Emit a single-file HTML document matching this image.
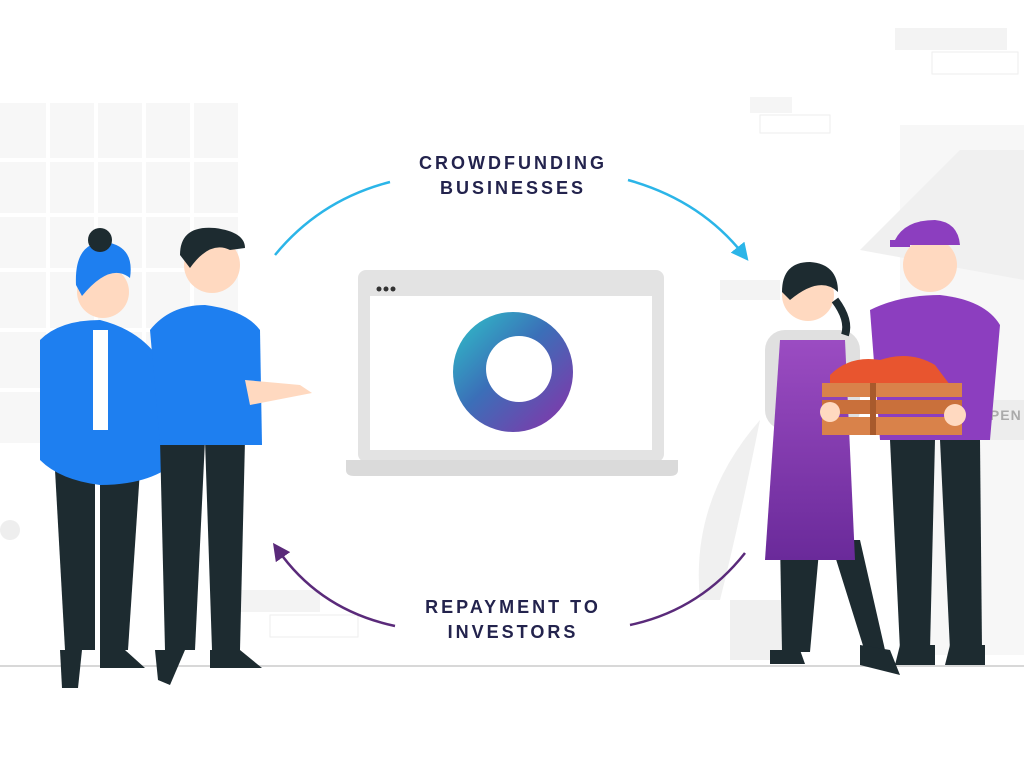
<!DOCTYPE html>
<html><head><meta charset="utf-8"><style>
html,body{margin:0;padding:0;background:#fff;width:1024px;height:768px;overflow:hidden}
svg{display:block}
text{font-family:"Liberation Sans",sans-serif;font-weight:bold;fill:#23234d;letter-spacing:3px}
</style></head><body>
<svg width="1024" height="768" viewBox="0 0 1024 768" xmlns="http://www.w3.org/2000/svg">
<defs>
<linearGradient id="ring" x1="0" y1="0" x2="1" y2="1">
<stop offset="0" stop-color="#2ec4c9"/><stop offset="0.45" stop-color="#3b6fb8"/><stop offset="1" stop-color="#8b2fa8"/>
</linearGradient>
<linearGradient id="apron" x1="0" y1="0" x2="0" y2="1"><stop offset="0" stop-color="#9b4cc2"/><stop offset="1" stop-color="#6a2a9a"/></linearGradient>
<marker id="ab" markerWidth="7" markerHeight="7" refX="3.5" refY="3.5" orient="auto"><path d="M0,0 L7,3.5 L0,7 z" fill="#2bb5e8"/></marker>
<marker id="ap" markerWidth="7" markerHeight="7" refX="3.5" refY="3.5" orient="auto"><path d="M0,0 L7,3.5 L0,7 z" fill="#5a2a7a"/></marker>
</defs>
<rect x="0" y="103" width="238" height="340" fill="#f7f7f7"/>
<g stroke="#fff" stroke-width="4">
<line x1="48" y1="103" x2="48" y2="443"/><line x1="96" y1="103" x2="96" y2="443"/><line x1="144" y1="103" x2="144" y2="443"/><line x1="192" y1="103" x2="192" y2="443"/>
<line x1="0" y1="160" x2="238" y2="160"/><line x1="0" y1="215" x2="238" y2="215"/><line x1="0" y1="270" x2="238" y2="270"/><line x1="0" y1="330" x2="238" y2="330"/><line x1="0" y1="390" x2="238" y2="390"/>
</g>
<rect x="0" y="520" width="20" height="20" rx="10" fill="#eee"/>
<rect x="240" y="590" width="80" height="22" fill="#f3f3f3"/>
<rect x="270" y="615" width="88" height="22" fill="#fff" stroke="#eee"/>
<rect x="895" y="28" width="112" height="22" fill="#f3f3f3"/>
<rect x="932" y="52" width="86" height="22" fill="#fff" stroke="#eee"/>
<rect x="750" y="97" width="42" height="16" fill="#f5f5f5"/>
<rect x="760" y="115" width="70" height="18" fill="#fff" stroke="#eee"/>
<rect x="900" y="125" width="124" height="530" fill="#f7f7f7"/>
<path d="M860 250 L960 150 L1024 150 L1024 280 Z" fill="#f0f0f0"/>
<rect x="720" y="280" width="60" height="20" fill="#f3f3f3"/>
<rect x="975" y="400" width="49" height="40" fill="#ededed"/>
<text x="978" y="420" font-size="14" style="fill:#aaa;letter-spacing:1px">OPEN</text>
<path d="M700 600 Q690 500 760 420 Q740 520 720 600 Z" fill="#f0f0f0"/>
<rect x="730" y="600" width="60" height="60" fill="#f0f0f0"/>
<line x1="0" y1="666" x2="1024" y2="666" stroke="#d8d8d8" stroke-width="2"/>
<!-- laptop -->
<rect x="358" y="270" width="306" height="192" rx="8" fill="#e3e3e3"/>
<rect x="370" y="296" width="282" height="154" fill="#fff"/>
<circle cx="379" cy="289" r="2.5" fill="#333"/><circle cx="386" cy="289" r="2.5" fill="#333"/><circle cx="393" cy="289" r="2.5" fill="#333"/>
<path d="M346 460 H678 V470 Q678 476 670 476 H354 Q346 476 346 470 Z" fill="#dadada"/>
<circle cx="513" cy="372" r="60" fill="url(#ring)"/>
<circle cx="519" cy="369" r="33" fill="#fff"/>
<text x="513" y="169" font-size="18" text-anchor="middle">CROWDFUNDING</text>
<text x="513" y="194" font-size="18" text-anchor="middle">BUSINESSES</text>
<text x="513" y="613" font-size="18" text-anchor="middle">REPAYMENT TO</text>
<text x="513" y="638" font-size="18" text-anchor="middle">INVESTORS</text>
<path d="M275 255 Q320 200 390 182" fill="none" stroke="#2bb5e8" stroke-width="2.5"/>
<path d="M628 180 Q700 200 743 254" fill="none" stroke="#2bb5e8" stroke-width="2.5" marker-end="url(#ab)"/>
<path d="M745 553 Q700 610 630 625" fill="none" stroke="#5a2a7a" stroke-width="2.5"/>
<path d="M395 626 Q320 610 278 550" fill="none" stroke="#5a2a7a" stroke-width="2.5" marker-end="url(#ap)"/>
<!-- left woman -->
<g fill="#1d2b30">
<path d="M55 470 L95 470 L95 650 L65 650 Z"/><path d="M100 470 L140 470 L128 650 L100 650 Z"/>
<path d="M60 650 L82 650 L78 688 L62 688 Z"/>
<path d="M100 650 L125 650 L145 668 L100 668 Z"/>
</g>
<path d="M40 340 Q60 320 100 320 Q140 330 160 360 L165 470 Q140 485 100 485 Q60 480 40 460 Z" fill="#1e7ff0"/>
<rect x="93" y="330" width="15" height="100" fill="#fff"/>
<circle cx="103" cy="292" r="26" fill="#ffd9c0"/>
<path d="M76 285 Q74 242 105 242 Q135 246 130 278 Q110 262 82 296 Z" fill="#1e7ff0"/>
<circle cx="100" cy="240" r="12" fill="#1d2b30"/>
<!-- left man -->
<g fill="#1d2b30">
<path d="M160 440 L205 440 L195 650 L165 650 Z"/><path d="M205 440 L245 440 L240 650 L212 650 Z"/>
<path d="M155 650 L185 650 L170 685 L158 680 Z"/>
<path d="M210 650 L240 650 L262 668 L210 668 Z"/>
</g>
<path d="M150 330 Q170 305 205 305 Q245 310 260 330 L262 445 L160 445 Z" fill="#1e7ff0"/>
<path d="M245 380 L300 385 L312 393 L250 405 Z" fill="#ffd9c0"/>
<circle cx="212" cy="265" r="28" fill="#ffd9c0"/>
<path d="M180 255 Q180 225 215 228 Q245 232 245 248 L230 250 Q210 240 190 268 Z" fill="#1d2b30"/>
<!-- right woman -->
<g fill="#1d2b30">
<path d="M780 540 L820 540 L810 652 L782 652 Z"/><path d="M830 540 L860 540 L885 650 L865 652 Z"/>
<path d="M770 650 L800 650 L805 664 L770 664 Z"/>
<path d="M860 645 L890 650 L900 675 L860 665 Z"/>
</g>
<rect x="765" y="330" width="95" height="100" rx="20" fill="#e0e0e0"/>
<path d="M780 340 L845 340 L855 560 L765 560 Z" fill="url(#apron)"/>
<circle cx="808" cy="295" r="26" fill="#ffd9c0"/>
<path d="M782 292 Q782 262 810 262 Q838 264 838 292 Q820 275 790 300 Z" fill="#1d2b30"/>
<path d="M835 300 Q850 320 845 335" stroke="#1d2b30" stroke-width="8" fill="none"/>
<!-- right man -->
<g fill="#1d2b30">
<path d="M890 440 L935 440 L930 650 L900 650 Z"/><path d="M940 440 L980 440 L982 650 L950 650 Z"/>
<path d="M900 645 L935 645 L935 665 L895 665 Z"/>
<path d="M950 645 L985 645 L985 665 L945 665 Z"/>
</g>
<path d="M870 310 Q900 295 940 295 Q985 300 1000 325 L990 440 L880 440 Z" fill="#8c3ebf"/>
<circle cx="930" cy="265" r="27" fill="#ffd9c0"/>
<path d="M895 240 Q905 220 935 220 Q958 222 960 245 L898 245 Z" fill="#8c3ebf"/>
<rect x="890" y="240" width="20" height="7" fill="#8c3ebf"/>
<path d="M830 375 Q850 355 880 360 Q910 350 935 365 L950 385 L830 385 Z" fill="#e8552f"/>
<rect x="822" y="383" width="140" height="14" fill="#d9824a"/>
<rect x="822" y="400" width="140" height="14" fill="#c9703b"/>
<rect x="822" y="417" width="140" height="18" fill="#d9824a"/>
<rect x="870" y="383" width="6" height="52" fill="#a85a2c"/>
<circle cx="830" cy="412" r="10" fill="#ffd9c0"/>
<circle cx="955" cy="415" r="11" fill="#ffd9c0"/>
</svg>
</body></html>
